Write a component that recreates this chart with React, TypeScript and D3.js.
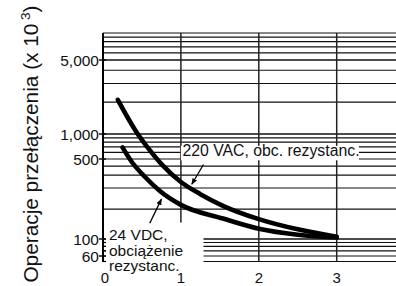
import React from 'react';
import * as d3 from 'd3';

const W = 396;
const H = 286;

// axis ticks
const yLabelValues = [60, 100, 500, 1000, 5000];
const yLabelTexts = ['60', '100', '500', '1,000', '5,000'];
const yMinorTicks = [50, 70, 80, 90];
const xTickValues = [0, 1, 2, 3];
const xTickTexts = ['0', '1', '2', '3'];
const verticalGrid = [1, 2, 3];
const gridValues = [
  50, 60, 70, 80, 90, 100, 150, 200, 300, 400, 500, 600, 700, 800, 900,
  1000, 2000, 3000, 4000, 5000, 6000, 7000, 8000, 9000, 10000,
];

// series: 220 VAC, resistive load
const vacX = [0.19, 0.42, 0.6, 0.76, 1.0, 1.25, 1.54, 2.0, 2.5, 3.0];
const vacY = [2100, 1070, 640, 415, 242, 184, 157, 131, 114, 103];
// series: 24 VDC, resistive load
const vdcX = [0.25, 0.37, 0.54, 0.73, 1.0, 1.54, 2.0, 2.5, 3.0];
const vdcY = [690, 455, 283, 192, 159, 132, 115, 106, 102];

const FONT = "'Liberation Sans', Arial, Helvetica, sans-serif";

export default function App() {
  const x = d3.scaleLinear().domain([0, 4]).range([103, 414.6]);
  // scanned log axis: piecewise log scale through the printed decades
  const y = d3
    .scaleLog()
    .domain([50, 60, 100, 200, 500, 1000, 5000, 10000])
    .range([261.5, 256, 239, 188, 159, 134, 60, 33]);

  const line = d3
    .line<[number, number]>()
    .x((d) => x(d[0]))
    .y((d) => y(d[1]))
    .curve(d3.curveMonotoneX);

  const vac = vacX.map((v, i) => [v, vacY[i]] as [number, number]);
  const vdc = vdcX.map((v, i) => [v, vdcY[i]] as [number, number]);

  const top = y(10000);
  const bottom = y(50);
  const left = x(0);

  const heavy = new Set([1000, 5000, 100]);

  return (
    <svg
      width={W}
      height={H}
      style={{ position: 'absolute', left: 0, top: 0, background: '#fff' }}
      fontFamily={FONT}
    >
      <defs>
        <marker id="arr" viewBox="0 0 10 10" refX="9" refY="5" markerWidth="5" markerHeight="6" orient="auto">
          <path d="M0,1 L10,5 L0,9 z" fill="#000" />
        </marker>
      </defs>
      <rect x={0} y={0} width={W} height={H} fill="#fff" />

      {/* horizontal grid */}
      {gridValues.map((g) => (
        <line
          key={'g' + g}
          x1={left}
          x2={W}
          y1={y(g)}
          y2={y(g)}
          stroke="#111"
          strokeWidth={heavy.has(g) ? 1.6 : 1.2}
        />
      ))}
      {/* vertical grid */}
      {verticalGrid.map((v) => (
        <line key={'v' + v} x1={x(v)} x2={x(v)} y1={top} y2={bottom} stroke="#222" strokeWidth={1.5} />
      ))}

      {/* label box 220 VAC */}
      <rect x={x(1.0)} y={y(720)} width={178} height={y(480) - y(720)} fill="#fff" />
      {/* label box 24 VDC */}
      <rect x={left + 3} y={y(125)} width={x(1.29) - left - 3} height={bottom - y(125) + 2} fill="#fff" />

      {/* left axis */}
      <line x1={left} x2={left} y1={top} y2={bottom + 0.5} stroke="#000" strokeWidth={2} />
      {yLabelValues.map((v, i) => (
        <g key={'yl' + v}>
          <line x1={left - 4} x2={left + 3} y1={y(v)} y2={y(v)} stroke="#000" strokeWidth={1.4} />
          <text x={left - 4} y={y(v)} dy="0.36em" textAnchor="end" fontSize={15.5} fill="#111">
            {yLabelTexts[i]}
          </text>
        </g>
      ))}
      {yMinorTicks.map((v) => (
        <line key={'ym' + v} x1={left} x2={left + 3} y1={y(v)} y2={y(v)} stroke="#000" strokeWidth={1.2} />
      ))}

      {/* x tick labels */}
      {xTickValues.map((v, i) => (
        <text key={'xl' + v} x={x(v) + (v === 0 ? 2 : 0)} y={282.5} textAnchor="middle" fontSize={15} fill="#111">
          {xTickTexts[i]}
        </text>
      ))}

      {/* curves */}
      <path d={line(vac) || ''} fill="none" stroke="#000" strokeWidth={4.6} strokeLinecap="round" />
      <path d={line(vdc) || ''} fill="none" stroke="#000" strokeWidth={4.6} strokeLinecap="round" />

      {/* annotations */}
      <text x={x(1.02)} y={155.7} fontSize={15.8} fill="#111">220 VAC, obc. rezystanc.</text>
      <line
        x1={x(1.29)}
        y1={y(420)}
        x2={x(1.14)}
        y2={y(225)}
        stroke="#000"
        strokeWidth={1.3}
        markerEnd="url(#arr)"
      />
      <text x={109} fontSize={15.5} fill="#111">
        <tspan x={109} y={240}>24 VDC,</tspan>
        <tspan x={109} y={255.5}>obciążenie</tspan>
        <tspan x={109} y={271}>rezystanc.</tspan>
      </text>
      <line
        x1={x(0.6)}
        y1={y(124)}
        x2={x(0.75)}
        y2={y(172)}
        stroke="#000"
        strokeWidth={1.3}
        markerEnd="url(#arr)"
      />

      {/* y title */}
      <text
        transform={`translate(37.5, 144) rotate(-90)`}
        textAnchor="middle"
        fontSize={20.8}
        fill="#111"
      >
        Operacje przełączenia (x 10
        <tspan fontSize={13.5} dy={-8}> 3</tspan>
        <tspan dy={8}>)</tspan>
      </text>
    </svg>
  );
}
